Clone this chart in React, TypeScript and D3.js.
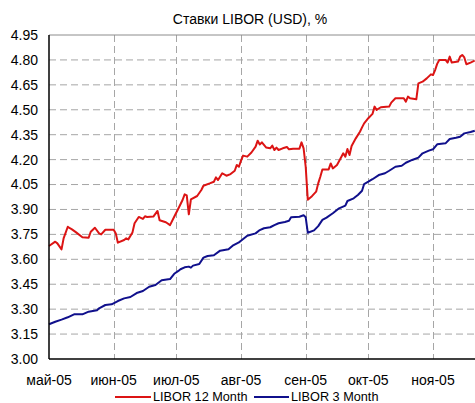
import React from "react";
import * as d3 from "d3";

const title = "Ставки LIBOR (USD), %";
const yTicks = [3.0, 3.15, 3.3, 3.45, 3.6, 3.75, 3.9, 4.05, 4.2, 4.35, 4.5, 4.65, 4.8, 4.95];
const monthTicks = ["2005-05-01", "2005-06-01", "2005-07-01", "2005-08-01", "2005-09-01", "2005-10-01", "2005-11-01"];
const monthLabels = ["май-05", "июн-05", "июл-05", "авг-05", "сен-05", "окт-05", "ноя-05"];

const libor12Dates = [
  "2005-05-01","2005-05-04","2005-05-05","2005-05-07","2005-05-08","2005-05-10","2005-05-11","2005-05-12","2005-05-14","2005-05-17",
  "2005-05-20","2005-05-21","2005-05-23","2005-05-25","2005-05-26","2005-05-28","2005-06-01","2005-06-02","2005-06-03","2005-06-06",
  "2005-06-07","2005-06-08","2005-06-10","2005-06-11","2005-06-13","2005-06-15","2005-06-16","2005-06-17","2005-06-20","2005-06-22",
  "2005-06-23","2005-06-26","2005-06-28","2005-06-30","2005-07-02","2005-07-04","2005-07-05","2005-07-06","2005-07-07","2005-07-08",
  "2005-07-11","2005-07-13","2005-07-14","2005-07-17","2005-07-19","2005-07-20","2005-07-21","2005-07-23","2005-07-25","2005-07-27",
  "2005-07-29","2005-07-30","2005-07-31","2005-08-01","2005-08-02","2005-08-04","2005-08-06","2005-08-08","2005-08-09","2005-08-10",
  "2005-08-11","2005-08-13","2005-08-15","2005-08-16","2005-08-17","2005-08-18","2005-08-19","2005-08-21","2005-08-23","2005-08-24",
  "2005-08-26","2005-08-29","2005-08-30","2005-08-31","2005-09-01","2005-09-02","2005-09-04","2005-09-06","2005-09-07","2005-09-08",
  "2005-09-09","2005-09-12","2005-09-13","2005-09-14","2005-09-16","2005-09-18","2005-09-19","2005-09-20","2005-09-21","2005-09-22",
  "2005-09-23","2005-09-25","2005-09-27","2005-09-28","2005-09-29","2005-10-01","2005-10-03","2005-10-04","2005-10-05","2005-10-07",
  "2005-10-11","2005-10-12","2005-10-14","2005-10-18","2005-10-19","2005-10-20","2005-10-21","2005-10-24","2005-10-25","2005-10-27",
  "2005-10-29","2005-10-31","2005-11-01","2005-11-02","2005-11-03","2005-11-04","2005-11-07","2005-11-08","2005-11-09","2005-11-10",
  "2005-11-13","2005-11-14","2005-11-15","2005-11-16","2005-11-17","2005-11-19","2005-11-21"
];
const libor12Values = [
  3.68,3.706,3.696,3.66,3.726,3.796,3.787,3.78,3.762,3.733,
  3.73,3.766,3.79,3.756,3.75,3.778,3.778,3.756,3.70,3.716,
  3.726,3.72,3.762,3.817,3.855,3.843,3.859,3.855,3.857,3.891,
  3.835,3.823,3.806,3.856,3.906,3.957,3.991,3.985,3.871,3.961,
  3.981,4.017,4.043,4.057,4.067,4.093,4.077,4.118,4.103,4.113,
  4.133,4.168,4.157,4.194,4.224,4.218,4.243,4.278,4.314,4.291,
  4.304,4.273,4.268,4.284,4.258,4.272,4.258,4.268,4.276,4.262,
  4.266,4.266,4.304,4.268,4.157,3.959,3.98,4.007,4.057,4.097,
  4.141,4.141,4.177,4.147,4.168,4.214,4.238,4.218,4.264,4.228,
  4.282,4.328,4.368,4.394,4.418,4.449,4.475,4.519,4.499,4.515,
  4.519,4.543,4.569,4.569,4.549,4.579,4.569,4.563,4.659,4.669,
  4.689,4.713,4.709,4.739,4.776,4.80,4.80,4.784,4.82,4.784,
  4.79,4.82,4.83,4.815,4.774,4.784,4.796
];

const libor3Dates = [
  "2005-05-01","2005-05-04","2005-05-07","2005-05-10","2005-05-13","2005-05-17","2005-05-20","2005-05-24","2005-05-25","2005-05-28",
  "2005-05-31","2005-06-03","2005-06-06","2005-06-09","2005-06-12","2005-06-15","2005-06-18","2005-06-21","2005-06-24","2005-06-28",
  "2005-06-30","2005-07-02","2005-07-03","2005-07-05","2005-07-07","2005-07-08","2005-07-09","2005-07-12","2005-07-14","2005-07-16",
  "2005-07-19","2005-07-22","2005-07-24","2005-07-26","2005-07-28","2005-07-31","2005-08-01","2005-08-04","2005-08-08","2005-08-10",
  "2005-08-12","2005-08-15","2005-08-17","2005-08-19","2005-08-22","2005-08-24","2005-08-25","2005-08-29","2005-08-31","2005-09-01",
  "2005-09-02","2005-09-05","2005-09-07","2005-09-09","2005-09-11","2005-09-14","2005-09-17","2005-09-20","2005-09-21","2005-09-24",
  "2005-09-26","2005-09-28","2005-09-29","2005-10-01","2005-10-03","2005-10-06","2005-10-09","2005-10-11","2005-10-14","2005-10-17",
  "2005-10-19","2005-10-22","2005-10-25","2005-10-27","2005-10-30","2005-11-01","2005-11-03","2005-11-07","2005-11-09","2005-11-12",
  "2005-11-14","2005-11-16","2005-11-19","2005-11-21"
];
const libor3Values = [
  3.209,3.224,3.237,3.251,3.269,3.269,3.285,3.293,3.305,3.325,
  3.329,3.349,3.365,3.373,3.397,3.409,3.435,3.445,3.474,3.481,
  3.513,3.53,3.54,3.552,3.556,3.55,3.562,3.572,3.61,3.62,
  3.624,3.652,3.656,3.66,3.682,3.702,3.712,3.742,3.756,3.776,
  3.787,3.793,3.806,3.817,3.825,3.832,3.853,3.856,3.865,3.853,
  3.76,3.774,3.80,3.837,3.851,3.877,3.907,3.923,3.951,3.967,
  3.987,4.013,4.053,4.067,4.082,4.107,4.118,4.133,4.157,4.163,
  4.181,4.198,4.212,4.238,4.254,4.262,4.292,4.298,4.324,4.332,
  4.338,4.358,4.366,4.374
];

const seriesNames = ["LIBOR 12 Month", "LIBOR 3 Month"];
const seriesColors = ["#dc1414", "#10108c"];

const W = 475;
const H = 403;
const FONT = "Arial, 'Liberation Sans', sans-serif";

export default function App() {
  const parse = d3.timeParse("%Y-%m-%d");
  const left = 49, top = 35, bottom = 359;
  const x = d3.scaleTime()
    .domain([parse("2005-05-01") as Date, parse("2005-11-01") as Date])
    .range([left, 433]);
  const y = d3.scaleLinear().domain([3.0, 4.95]).range([bottom, top]);
  const right = W + 5;

  const s12 = libor12Dates.map((d, i) => ({ d: parse(d) as Date, v: libor12Values[i] }));
  const s3 = libor3Dates.map((d, i) => ({ d: parse(d) as Date, v: libor3Values[i] }));
  const line = d3.line<{ d: Date; v: number }>().x((p) => x(p.d)).y((p) => y(p.v));

  const grid = "#a6a6a6";
  const legendY = 397;
  const legendItems = [
    { x1: 115, x2: 151, tx: 153 },
    { x1: 254, x2: 289, tx: 291 },
  ];

  return (
    <svg width={W} height={H} style={{ position: "absolute", left: 0, top: 0, background: "#fff" }} fontFamily={FONT}>
      <rect x={0} y={0} width={W} height={H} fill="#fff" />
      <text x={250} y={24} textAnchor="middle" fontSize={14} fill="#000">{title}</text>
      {yTicks.filter((t) => t > 3.0 && t < 4.95).map((t) => (
        <line key={"h" + t} x1={left} x2={right} y1={y(t)} y2={y(t)} stroke={grid} strokeDasharray="7,4" strokeWidth={1} />
      ))}
      {monthTicks.slice(1).map((m) => (
        <line key={"v" + m} x1={Math.round(x(parse(m) as Date)) + 0.5} x2={Math.round(x(parse(m) as Date)) + 0.5} y1={top} y2={bottom} stroke={grid} strokeDasharray="7,4" strokeWidth={1} />
      ))}
      <line x1={left} x2={right} y1={top} y2={top} stroke="#8c8c8c" strokeWidth={1} />
      <path d={line(s12) || ""} fill="none" stroke={seriesColors[0]} strokeWidth={2} strokeLinejoin="round" />
      <path d={line(s3) || ""} fill="none" stroke={seriesColors[1]} strokeWidth={2} strokeLinejoin="round" />
      <line x1={left} x2={left} y1={top} y2={bottom} stroke="#000" strokeWidth={1.5} />
      <line x1={left} x2={right} y1={bottom} y2={bottom} stroke="#000" strokeWidth={1.5} />
      {yTicks.map((t) => (
        <text key={"yl" + t} x={38} y={y(t)} dy="0.35em" textAnchor="end" fontSize={14} fill="#000">{d3.format(".2f")(t)}</text>
      ))}
      {monthTicks.map((m, i) => (
        <text key={"xl" + m} x={x(parse(m) as Date)} y={385} textAnchor="middle" fontSize={14} fill="#000">{monthLabels[i]}</text>
      ))}
      {legendItems.map((it, i) => (
        <g key={"lg" + i}>
          <line x1={it.x1} x2={it.x2} y1={legendY} y2={legendY} stroke={seriesColors[i]} strokeWidth={2} />
          <text x={it.tx} y={legendY} dy="0.35em" fontSize={12.7} fill="#000">{seriesNames[i]}</text>
        </g>
      ))}
    </svg>
  );
}
